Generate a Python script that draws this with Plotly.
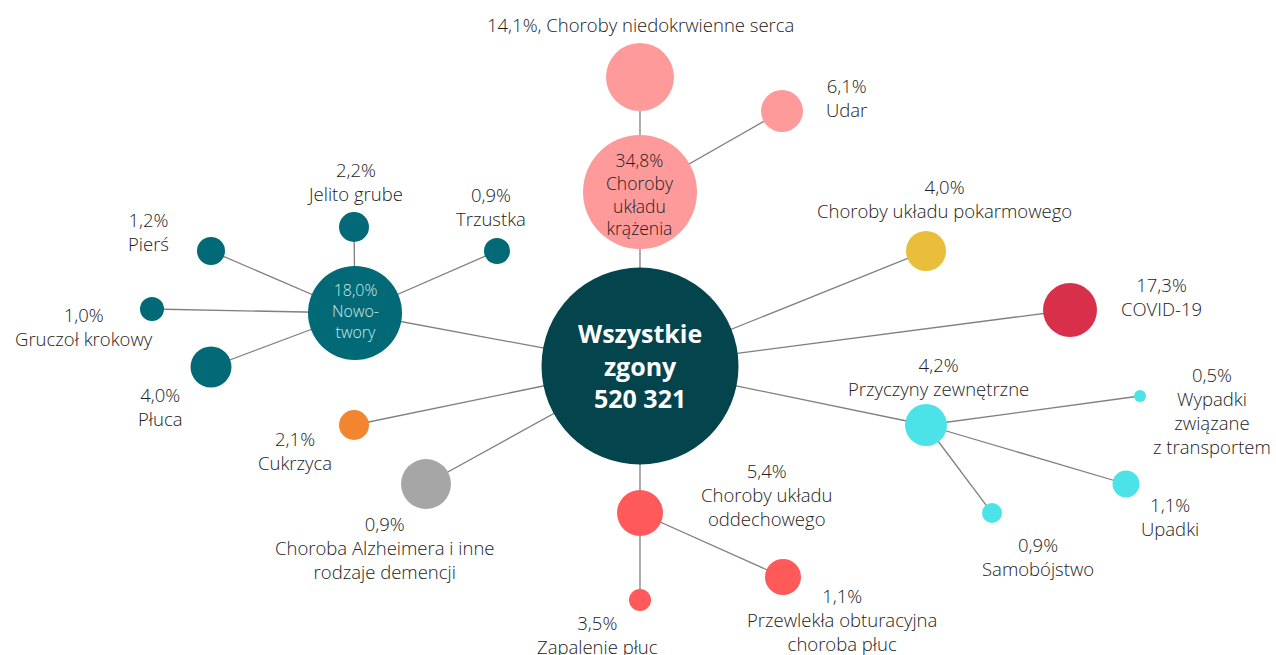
import plotly.graph_objects as go

# * Data
total_deaths = 520321
causes = [
    "Choroby układu krążenia", "Choroby niedokrwienne serca", "Udar",
    "Nowotwory", "Jelito grube", "Trzustka", "Pierś", "Gruczoł krokowy", "Płuca",
    "Cukrzyca", "Choroba Alzheimera i inne rodzaje demencji",
    "Choroby układu oddechowego", "Zapalenie płuc", "Przewlekła obturacyjna choroba płuc",
    "Przyczyny zewnętrzne", "Wypadki związane z transportem", "Upadki", "Samobójstwo",
    "COVID-19", "Choroby układu pokarmowego",
]
shares = [
    34.8, 14.1, 6.1,
    18.0, 2.2, 0.9, 1.2, 1.0, 4.0,
    2.1, 0.9,
    5.4, 3.5, 1.1,
    4.2, 0.5, 1.1, 0.9,
    17.3, 4.0,
]
parents = [
    "root", "Choroby układu krążenia", "Choroby układu krążenia",
    "root", "Nowotwory", "Nowotwory", "Nowotwory", "Nowotwory", "Nowotwory",
    "root", "root",
    "root", "Choroby układu oddechowego", "Choroby układu oddechowego",
    "root", "Przyczyny zewnętrzne", "Przyczyny zewnętrzne", "Przyczyny zewnętrzne",
    "root", "root",
]

# * Layout (pixel positions): node x, node y, diameter, label x, label y
ROOT = (640, 366, 197)
node_layout = {
    "Choroby układu krążenia": (640, 192, 114, 640, 194),
    "Choroby niedokrwienne serca": (640, 77, 68, 640, 24),
    "Udar": (782, 111, 42, 846, 97),
    "Nowotwory": (355, 313, 94, 355, 311),
    "Jelito grube": (354, 227, 30, 355, 181),
    "Trzustka": (497, 251, 26, 491, 206),
    "Pierś": (211, 251, 28, 148, 231),
    "Gruczoł krokowy": (152, 309, 24, 84, 326),
    "Płuca": (211, 367, 41, 160, 406),
    "Cukrzyca": (354, 425, 30, 295, 450),
    "Choroba Alzheimera i inne rodzaje demencji": (426, 484, 50, 385, 547),
    "Choroby układu oddechowego": (640, 513, 46, 766, 494),
    "Zapalenie płuc": (640, 600, 22, 597, 634),
    "Przewlekła obturacyjna choroba płuc": (783, 577, 36, 842, 619),
    "Przyczyny zewnętrzne": (926, 425, 42, 938, 376),
    "Wypadki związane z transportem": (1140, 396, 12, 1212, 410),
    "Upadki": (1126, 484, 27, 1170, 516),
    "Samobójstwo": (992, 513, 20, 1038, 556),
    "COVID-19": (1070, 310, 54, 1161, 296),
    "Choroby układu pokarmowego": (926, 251, 40, 944, 198),
}
# how each label is broken into lines
label_lines = {
    "Choroby układu krążenia": "Choroby<br>układu<br>krążenia",
    "Nowotwory": "Nowo-<br>twory",
    "Choroba Alzheimera i inne rodzaje demencji": "Choroba Alzheimera i inne<br>rodzaje demencji",
    "Choroby układu oddechowego": "Choroby układu<br>oddechowego",
    "Przewlekła obturacyjna choroba płuc": "Przewlekła obturacyjna<br>choroba płuc",
    "Wypadki związane z transportem": "Wypadki<br>związane<br>z transportem",
}

colors = {
    "root": "#03444d",
    "Choroby układu krążenia": "#fe9a9a",
    "Nowotwory": "#016a76",
    "Cukrzyca": "#f28530",
    "Choroba Alzheimera i inne rodzaje demencji": "#a6a6a6",
    "Choroby układu oddechowego": "#fe5a5a",
    "Przyczyny zewnętrzne": "#4be3e7",
    "COVID-19": "#d8304a",
    "Choroby układu pokarmowego": "#e8be3a",
}
FONT = "Open Sans"
TEXT_COLOR = "#222222"


def fmt(v):
    return f"{v:.1f}".replace(".", ",") + "%"


def node_color(name, parent):
    return colors.get(name) or colors.get(parent)


fig = go.Figure()

# edges
ex, ey = [], []
for name, parent in zip(causes, parents):
    x0, y0 = node_layout[name][:2]
    x1, y1 = ROOT[:2] if parent == "root" else node_layout[parent][:2]
    ex += [x1, x0, None]
    ey += [y1, y0, None]
fig.add_trace(go.Scatter(x=ex, y=ey, mode="lines",
                         line=dict(color="#7f7f7f", width=1.3), hoverinfo="skip"))

# nodes
fig.add_trace(go.Scatter(
    x=[ROOT[0]] + [node_layout[n][0] for n in causes],
    y=[ROOT[1]] + [node_layout[n][1] for n in causes],
    mode="markers",
    marker=dict(
        size=[ROOT[2]] + [node_layout[n][2] for n in causes],
        color=[colors["root"]] + [node_color(n, p) for n, p in zip(causes, parents)],
        line=dict(width=0), opacity=1,
    ),
    hoverinfo="skip",
))

annotations = [dict(
    x=ROOT[0], y=ROOT[1] - 1,
    text=f"<b>Wszystkie<br>zgony<br>{total_deaths:,}</b>".replace(",", " "),
    font=dict(family=FONT, size=25, color="white"),
)]
for name, share in zip(causes, shares):
    lx, ly = node_layout[name][3:]
    if name == "Choroby niedokrwienne serca":
        text = f"{fmt(share)}, {name}"
    else:
        text = f"{fmt(share)}<br>{label_lines.get(name, name)}"
    font = dict(family=FONT, size=18.5, color=TEXT_COLOR, weight=300)
    if name == "Choroby układu krążenia":
        font.update(size=17.5)
    if name == "Nowotwory":
        font.update(size=16, color="#cfe9ec")
    annotations.append(dict(x=lx, y=ly, text=text, font=font))
for a in annotations:
    a.update(xref="x", yref="y", showarrow=False, align="center",
             xanchor="center", yanchor="middle")

fig.update_layout(
    width=1276, height=655,
    margin=dict(l=0, r=0, t=0, b=0),
    showlegend=False,
    paper_bgcolor="white", plot_bgcolor="white",
    xaxis=dict(range=[0, 1276], visible=False, fixedrange=True),
    yaxis=dict(range=[655, 0], visible=False, fixedrange=True),
    annotations=annotations,
)

fig.write_html("out.html", config={"displayModeBar": False},
               post_script="document.body.style.margin='0';")
